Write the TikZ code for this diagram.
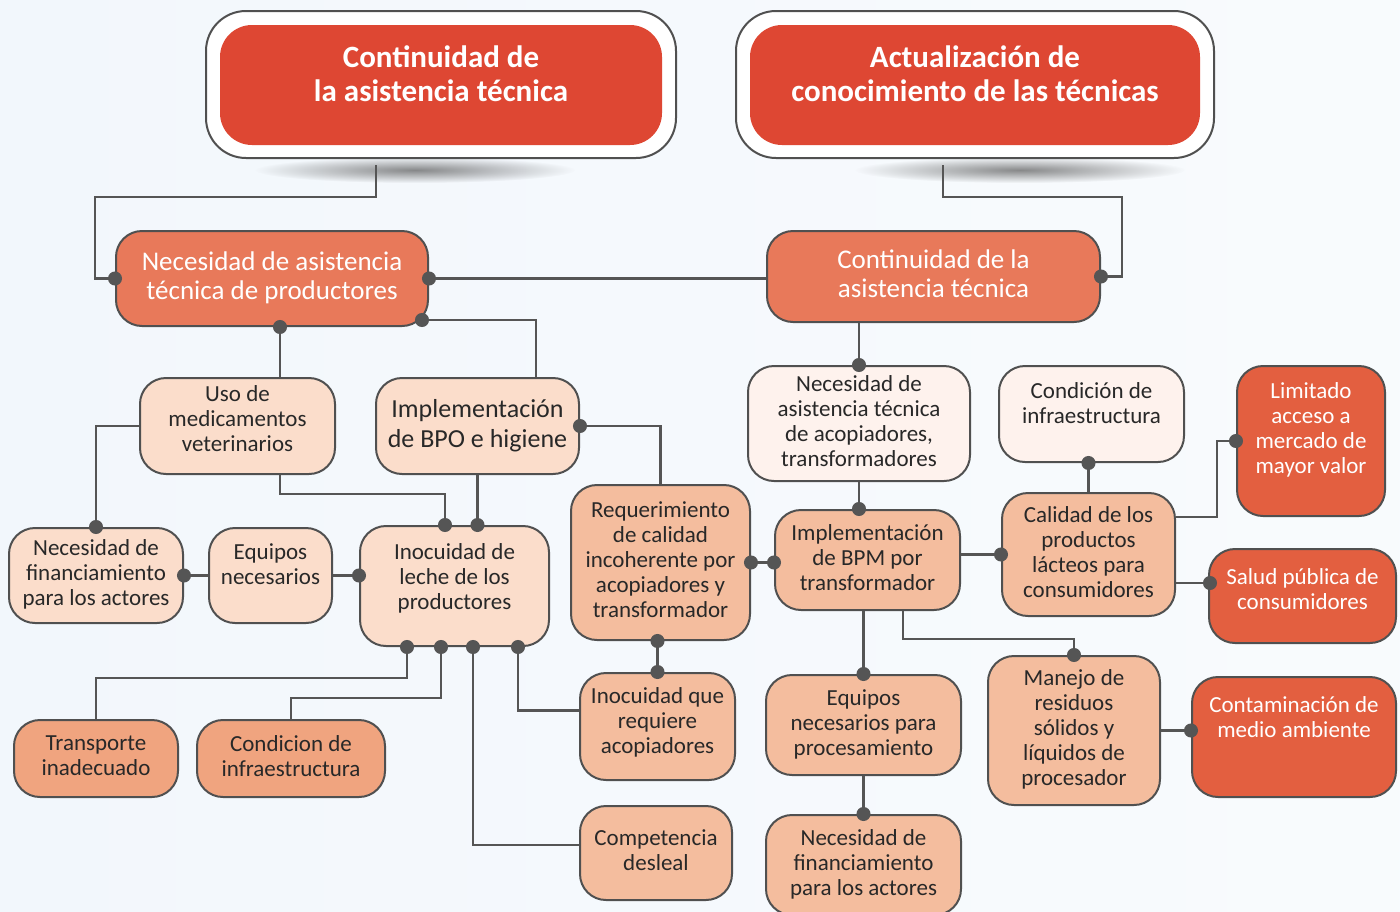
\documentclass[tikz,border=0pt]{standalone}
\usepackage{fontspec}
\setmainfont{Carlito}
\usetikzlibrary{arrows.meta, fadings}

\definecolor{bgblue}{RGB}{242,247,252}
\definecolor{titlered}{RGB}{222,71,51}
\definecolor{edgegray}{RGB}{80,80,80}
\definecolor{linkgray}{RGB}{85,85,85}
\definecolor{textgray}{RGB}{40,40,40}
\definecolor{causeorange}{RGB}{232,121,90}
\definecolor{peachlight}{RGB}{251,221,203}
\definecolor{peachpale}{RGB}{254,242,237}
\definecolor{peachmid}{RGB}{244,189,158}
\definecolor{peachdeep}{RGB}{240,164,127}
\definecolor{effectred}{RGB}{227,95,64}

\tikzfading[name=softshadow, inner color=transparent!35, outer color=transparent!100]

\tikzstyle{mapframe} = [rectangle, rounded corners=40pt, draw=edgegray, line width=2pt, fill=white, inner sep=0pt]
\tikzstyle{maptitle} = [rectangle, rounded corners=32pt, fill=titlered, text=white, inner sep=0pt, align=center, font=\fontsize{31}{34}\selectfont\bfseries, text depth=23pt]
\tikzstyle{mapbox} = [rectangle, rounded corners=26pt, draw=edgegray, line width=2pt, inner sep=0pt, align=center, text=textgray, font=\fontsize{23}{25}\selectfont, text depth=5pt]
\tikzstyle{mapcause} = [mapbox, fill=causeorange, text=white, font=\fontsize{27}{29}\selectfont]
\tikzstyle{maplight} = [mapbox, fill=peachlight]
\tikzstyle{mappale} = [mapbox, fill=peachpale]
\tikzstyle{mapmid} = [mapbox, fill=peachmid]
\tikzstyle{mapdeep} = [mapbox, fill=peachdeep]
\tikzstyle{mapeffect} = [mapbox, fill=effectred, text=white]
\tikzstyle{link} = [line width=2.2pt, draw=linkgray]
\tikzstyle{dotend} = [-{Circle[length=14pt]}, shorten >=-7pt]
\tikzstyle{dotstart} = [{Circle[length=14pt]}-, shorten <=-7pt]
\tikzstyle{dotboth} = [{Circle[length=14pt]}-{Circle[length=14pt]}, shorten <=-7pt, shorten >=-7pt]

\begin{document}
\begin{tikzpicture}[x=1pt, y=-1pt]
  \useasboundingbox (0,0) rectangle (1400,911);
  \shade[left color=bgblue, right color=white!50!bgblue] (0,0) rectangle (1400,911);

  \fill[black!70, path fading=softshadow] (415,170) ellipse (160pt and 13pt);
  \fill[black!70, path fading=softshadow] (1020,170) ellipse (165pt and 13pt);

  \node (t1frame) [mapframe, minimum width=470pt, minimum height=147pt] at (441,84.5) {};
  \node (t1) [maptitle, minimum width=442pt, minimum height=120pt] at (441,85) {Continuidad de\\la asistencia técnica};
  \node (t2frame) [mapframe, minimum width=478pt, minimum height=147pt] at (975,84.5) {};
  \node (t2) [maptitle, minimum width=450pt, minimum height=120pt] at (975,85) {Actualización de\\conocimiento de las técnicas};

  \node (n1) [mapcause, minimum width=312pt, minimum height=95pt] at (272,278.5) {Necesidad de asistencia\\técnica de productores};
  \node (c1) [mapcause, minimum width=333pt, minimum height=91pt] at (933.5,276.5) {Continuidad de la\\asistencia técnica};

  \node (u) [maplight, minimum width=195pt, minimum height=96pt, text depth=14pt] at (237.5,426) {Uso de\\medicamentos\\veterinarios};
  \node (im) [maplight, minimum width=203pt, minimum height=96pt, font=\fontsize{26}{30}\selectfont] at (477.5,426) {Implementación\\de BPO e higiene};
  \node (nf1) [maplight, minimum width=174pt, minimum height=95pt] at (96,575.5) {Necesidad de\\financiamiento\\para los actores};
  \node (eq) [maplight, minimum width=123pt, minimum height=95pt, text depth=22pt] at (270.5,575.5) {Equipos\\necesarios};
  \node (il) [maplight, minimum width=189pt, minimum height=120pt, text depth=18pt] at (454.5,586) {Inocuidad de\\leche de los\\productores};
  \node (r) [mapmid, minimum width=179pt, minimum height=155pt] at (660.5,562.5) {Requerimiento\\de calidad\\incoherente por\\acopiadores y\\transformador};
  \node (iq) [mapmid, minimum width=155pt, minimum height=107pt, text depth=12pt] at (657.5,726.5) {Inocuidad que\\requiere\\acopiadores};
  \node (cd) [mapmid, minimum width=152pt, minimum height=94pt] at (656,853) {Competencia\\desleal};
  \node (tr) [mapdeep, minimum width=164pt, minimum height=77pt] at (96,758.5) {Transporte\\inadecuado};
  \node (ci) [mapdeep, minimum width=188pt, minimum height=77pt] at (291,758.5) {Condicion de\\infraestructura};

  \node (na) [mappale, minimum width=222pt, minimum height=115pt] at (859,423.5) {Necesidad de\\asistencia técnica\\de acopiadores,\\transformadores};
  \node (bpm) [mapmid, minimum width=185pt, minimum height=100pt] at (867.5,560) {Implementación\\de BPM por\\transformador};
  \node (co) [mappale, minimum width=185pt, minimum height=96pt, text depth=22pt] at (1091.5,414) {Condición de\\infraestructura};
  \node (cl) [mapmid, minimum width=173pt, minimum height=123pt] at (1088.5,554.5) {Calidad de los\\productos\\lácteos para\\consumidores};
  \node (la) [mapeffect, minimum width=148pt, minimum height=150pt, text depth=26pt] at (1311,441) {Limitado\\acceso a\\mercado de\\mayor valor};
  \node (sp) [mapeffect, minimum width=187pt, minimum height=94pt, text depth=13pt] at (1302.5,596) {Salud pública de\\consumidores};
  \node (eq2) [mapmid, minimum width=195pt, minimum height=100pt] at (863.5,725) {Equipos\\necesarios para\\procesamiento};
  \node (nf2) [mapmid, minimum width=195pt, minimum height=100pt] at (863.5,865) {Necesidad de\\financiamiento\\para los actores};
  \node (mr) [mapmid, minimum width=172pt, minimum height=149pt] at (1074,730.5) {Manejo de\\residuos\\sólidos y\\líquidos de\\procesador};
  \node (cm) [mapeffect, minimum width=204pt, minimum height=120pt, text depth=39pt] at (1294,737) {Contaminación de\\medio ambiente};

  \draw [link, dotend] ([xshift=-65pt,yshift=-6pt]t1frame.south) |- (95,197) |- (n1.west);
  \draw [link, dotend] ([xshift=-32pt,yshift=-6pt]t2frame.south) |- (1122,197) |- (c1.east);
  \draw [link, dotstart] (n1.east) -- (n1.east -| c1.west);
  \draw [link, dotstart] ([xshift=8pt]n1.south) -- ([xshift=8pt]n1.south |- u.north);
  \draw [link, dotstart] ([xshift=-7pt,yshift=7pt]n1.south east) -| ([xshift=58.5pt]im.north);
  \draw [link, dotend] (u.west) -| (nf1.north);
  \draw [link, dotend] ([xshift=42.5pt]u.south) -- ++(0,19) -| ([xshift=-9.5pt]il.north);
  \draw [link, dotend] (im.south) -- (im.south |- il.north);
  \draw [link, dotstart] (im.east) -| (r.north);
  \draw [link, dotstart] (nf1.east) -- (eq.west);
  \draw [link, dotend] (eq.east) -- (eq.east -| il.west);
  \draw [link, dotstart] ([xshift=-47.5pt]il.south) -- ++(0,31) -| (tr.north);
  \draw [link, dotstart] ([xshift=-13.5pt]il.south) -- ++(0,51) -| (ci.north);
  \draw [link, dotstart] ([xshift=18.5pt]il.south) |- ([yshift=8pt]cd.west);
  \draw [link, dotstart] ([xshift=63.5pt]il.south) |- ([yshift=16pt]iq.west);
  \draw [link, dotboth] (iq.north |- r.south) -- (iq.north);
  \draw [link, dotboth] (r.east) -- (r.east -| bpm.west);
  \draw [link, dotend] (c1.south -| na.north) -- (na.north);
  \draw [link, dotend] (na.south) -- (na.south |- bpm.north);
  \draw [link, dotend] (bpm.east |- cl.west) -- (cl.west);
  \draw [link, dotend] (bpm.south -| eq2.north) -- (eq2.north);
  \draw [link, dotend] ([xshift=35.5pt]bpm.south) -- ++(0,28) -| (mr.north);
  \draw [link, dotend] (eq2.south) -- (nf2.north);
  \draw [link, dotstart] (co.south -| cl.north) -- (cl.north);
  \draw [link, dotend] ([yshift=37.5pt]cl.east) -- ++(41,0) |- (la.west);
  \draw [link, dotend] ([yshift=-28.5pt]cl.east) -- ++(34,0);
  \draw [link, dotend] (mr.east) -- (mr.east -| cm.west);
\end{tikzpicture}
\end{document}
